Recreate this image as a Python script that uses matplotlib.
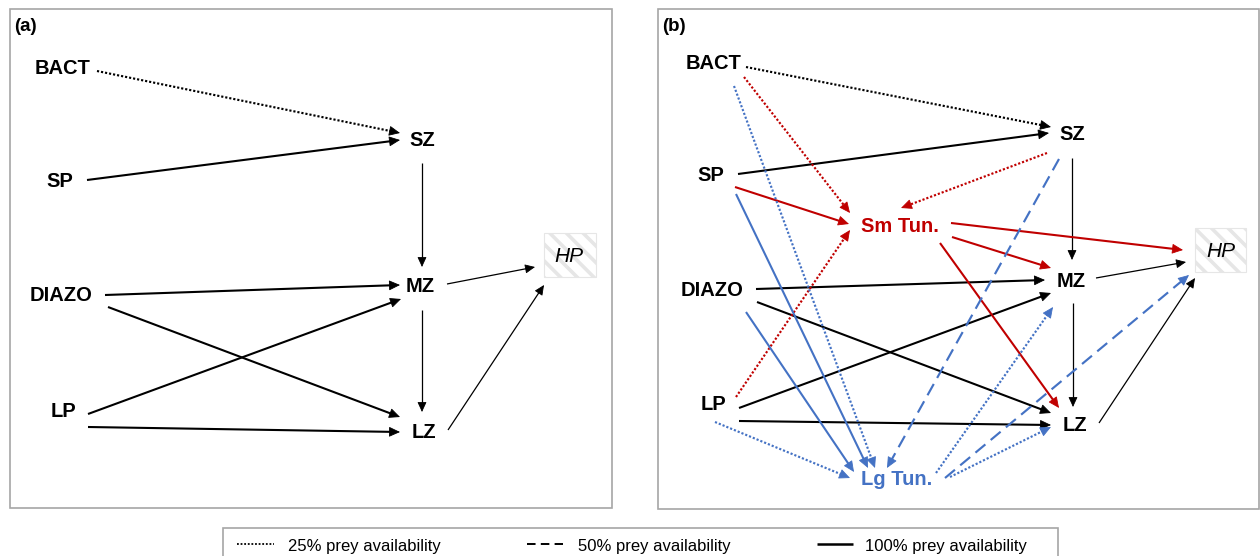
import numpy as np
import matplotlib.pyplot as plt
from matplotlib.patches import Rectangle, FancyArrowPatch

plt.rcParams['font.family'] = ['Liberation Sans', 'DejaVu Sans']
plt.rcParams['hatch.linewidth'] = 2.6

# ----------------------------
# Food web data
# ----------------------------
# links: (prey, consumer, % prey availability, consumer group)
links_a = [
    ("BACT", "SZ", 25, "base"),
    ("SP", "SZ", 100, "base"),
    ("SZ", "MZ", 100, "base"),
    ("DIAZO", "MZ", 100, "base"),
    ("DIAZO", "LZ", 100, "base"),
    ("LP", "MZ", 100, "base"),
    ("LP", "LZ", 100, "base"),
    ("MZ", "LZ", 100, "base"),
    ("MZ", "HP", 100, "base"),
    ("LZ", "HP", 100, "base"),
]

links_b = links_a + [
    ("BACT", "Sm Tun.", 25, "small"),
    ("SP", "Sm Tun.", 100, "small"),
    ("LP", "Sm Tun.", 25, "small"),
    ("SZ", "Sm Tun.", 25, "small"),
    ("Sm Tun.", "HP", 100, "small"),
    ("Sm Tun.", "MZ", 100, "small"),
    ("Sm Tun.", "LZ", 100, "small"),
    ("BACT", "Lg Tun.", 25, "large"),
    ("SP", "Lg Tun.", 100, "large"),
    ("DIAZO", "Lg Tun.", 100, "large"),
    ("LP", "Lg Tun.", 25, "large"),
    ("SZ", "Lg Tun.", 50, "large"),
    ("Lg Tun.", "MZ", 25, "large"),
    ("Lg Tun.", "HP", 50, "large"),
    ("Lg Tun.", "LZ", 25, "large"),
]

availability = [25, 50, 100]
legend_labels = ["25% prey availability", "50% prey availability", "100% prey availability"]

# ----------------------------
# Styling
# ----------------------------
RED = "#C00000"
BLUE = "#4472C4"
FRAME = "#A6A6A6"
group_colors = {"base": "black", "small": RED, "large": BLUE}
node_colors = {"Sm Tun.": RED, "Lg Tun.": BLUE}
line_styles = {25: (0, (1, 0.9)), 50: (0, (6, 3.2)), 100: "-"}
thin_links = {("SZ", "MZ"), ("MZ", "LZ"), ("MZ", "HP"), ("LZ", "HP")}

# ----------------------------
# Layout (pixel coordinates, y downwards)
# ----------------------------
nodes_a = {
    "BACT": (63, 67), "SP": (60, 180), "DIAZO": (61, 294), "LP": (63, 410),
    "SZ": (422, 139), "MZ": (420, 285), "LZ": (424, 431), "HP": (569, 255),
}
nodes_b = {
    "BACT": (714, 62), "SP": (711, 174), "DIAZO": (712, 289), "LP": (714, 403),
    "SZ": (1072, 133), "MZ": (1071, 280), "LZ": (1075, 424), "HP": (1221, 250),
    "Sm Tun.": (900, 225), "Lg Tun.": (897, 478),
}
hp_box_a = (544, 233, 52, 44)
hp_box_b = (1195, 228, 51, 44)

paths_a = {
    ("BACT", "SZ"): ((97, 71), (400, 133)),
    ("SP", "SZ"): ((87, 180), (400, 140)),
    ("SZ", "MZ"): ((422, 163), (422, 267)),
    ("DIAZO", "MZ"): ((105, 295), (400, 285)),
    ("DIAZO", "LZ"): ((108, 307), (400, 417)),
    ("LP", "MZ"): ((88, 414), (401, 299)),
    ("LP", "LZ"): ((88, 427), (400, 432)),
    ("MZ", "LZ"): ((422, 310), (422, 412)),
    ("MZ", "HP"): ((447, 284), (535, 267)),
    ("LZ", "HP"): ((448, 430), (544, 285)),
}
paths_b = {
    ("BACT", "SZ"): ((746, 67), (1051, 127)),
    ("SP", "SZ"): ((738, 174), (1049, 133)),
    ("SZ", "MZ"): ((1072, 158), (1072, 260)),
    ("DIAZO", "MZ"): ((756, 289), (1045, 280)),
    ("DIAZO", "LZ"): ((757, 302), (1051, 413)),
    ("LP", "MZ"): ((739, 408), (1051, 293)),
    ("LP", "LZ"): ((739, 421), (1051, 425)),
    ("MZ", "LZ"): ((1073, 303), (1073, 407)),
    ("MZ", "HP"): ((1096, 278), (1186, 262)),
    ("LZ", "HP"): ((1099, 423), (1195, 278)),
    ("BACT", "Sm Tun."): ((744, 77), (850, 213)),
    ("SP", "Sm Tun."): ((735, 187), (849, 224)),
    ("LP", "Sm Tun."): ((736, 397), (850, 230)),
    ("SZ", "Sm Tun."): ((1047, 153), (901, 208)),
    ("Sm Tun.", "HP"): ((951, 223), (1183, 250)),
    ("Sm Tun.", "MZ"): ((952, 237), (1051, 268)),
    ("Sm Tun.", "LZ"): ((940, 243), (1059, 408)),
    ("BACT", "Lg Tun."): ((734, 86), (875, 468)),
    ("SP", "Lg Tun."): ((736, 194), (868, 468)),
    ("DIAZO", "Lg Tun."): ((746, 312), (854, 472)),
    ("LP", "Lg Tun."): ((715, 422), (850, 478)),
    ("SZ", "Lg Tun."): ((1059, 159), (887, 468)),
    ("Lg Tun.", "MZ"): ((936, 473), (1053, 307)),
    ("Lg Tun.", "HP"): ((945, 478), (1189, 275)),
    ("Lg Tun.", "LZ"): ((950, 477), (1051, 427)),
}


def draw_link(ax, p0, p1, pct, color, thin):
    p0 = np.asarray(p0, float)
    p1 = np.asarray(p1, float)
    u = (p1 - p0) / np.hypot(*(p1 - p0))
    if pct == 100:
        lw = 0.9 if thin else 1.5
    else:
        lw = 1.55
    head = 8.5 if thin else 9.5
    base = p1 - u * head
    stop = base + u * 2
    ax.plot([p0[0], stop[0]], [p0[1], stop[1]], color=color, lw=lw,
            linestyle=line_styles[pct], solid_capstyle="butt")
    style = "-|>,head_length=%.2f,head_width=%.2f" % (head * 0.72, head * 0.33)
    ax.add_patch(FancyArrowPatch(tuple(base), tuple(p1), arrowstyle=style,
                                 mutation_scale=1, shrinkA=0, shrinkB=0,
                                 color=color, lw=0.6, zorder=3))


def draw_panel(ax, frame, tag, nodes, links, paths, hp_box):
    x0, y0, w, h = frame
    ax.add_patch(Rectangle((x0, y0), w, h, fc="white", ec=FRAME, lw=1.2, zorder=0))
    ax.text(x0 + 4, y0 + 22, tag, fontsize=13.5, fontweight="bold", ha="left", va="baseline")

    bx, by, bw, bh = hp_box
    ax.add_patch(Rectangle((bx, by), bw, bh, fc="white", ec="#E6E6E6", hatch="\\\\",
                           lw=0.8, zorder=1))

    for prey, pred, pct, grp in links:
        p0, p1 = paths[(prey, pred)]
        draw_link(ax, p0, p1, pct, group_colors[grp], (prey, pred) in thin_links)

    for name, (x, y) in nodes.items():
        if name == "HP":
            ax.text(x, y + 7, name, fontsize=15, fontstyle="italic", ha="center",
                    va="baseline", zorder=4)
        else:
            ax.text(x, y + 7, name, fontsize=14.5, fontweight="bold", ha="center",
                    va="baseline", color=node_colors.get(name, "black"), zorder=4)


fig = plt.figure(figsize=(12.6, 5.56), dpi=100)
ax = fig.add_axes([0, 0, 1, 1])
ax.set_xlim(0, 1260)
ax.set_ylim(556, 0)
ax.axis("off")

draw_panel(ax, (10, 9, 602, 499), "(a)", nodes_a, links_a, paths_a, hp_box_a)
draw_panel(ax, (658, 9, 601, 500), "(b)", nodes_b, links_b, paths_b, hp_box_b)

# ----------------------------
# Legend
# ----------------------------
ax.add_patch(Rectangle((223, 528), 835, 40, fc="white", ec=FRAME, lw=1.2, zorder=0))
sample_x = [(237, 274), (527, 563), (817, 853)]
text_x = [288, 578, 865]
legend_styles = {25: (0, (1, 1)), 50: (0, (4.4, 2.7)), 100: "-"}
legend_lw = {25: 1.3, 50: 1.4, 100: 1.8}
for pct, label, (sx0, sx1), tx in zip(availability, legend_labels, sample_x, text_x):
    ax.plot([sx0, sx1], [544, 544], color="black", lw=legend_lw[pct],
            linestyle=legend_styles[pct], solid_capstyle="butt")
    ax.text(tx, 551, label, fontsize=12, ha="left", va="baseline")

fig.savefig("out.png", dpi=100)
